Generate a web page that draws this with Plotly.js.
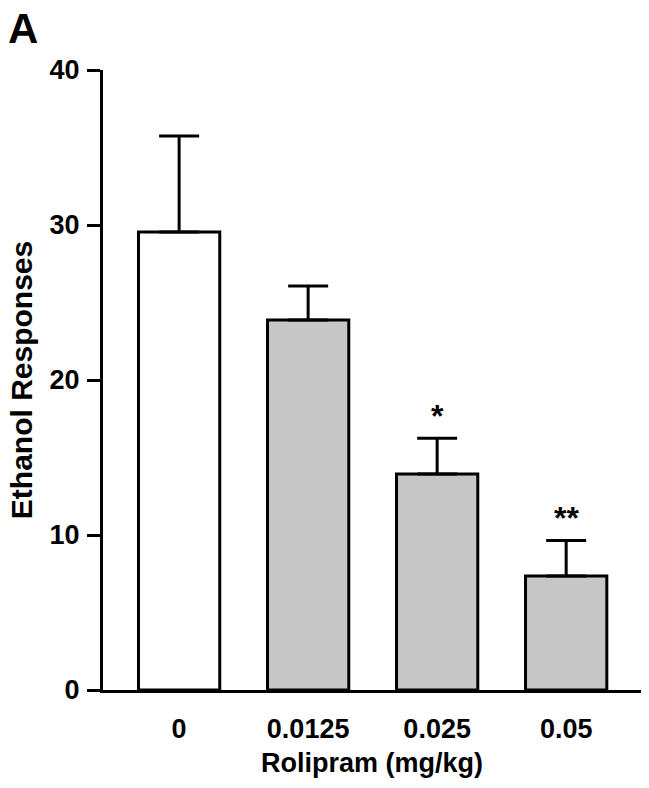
<!DOCTYPE html>
<html>
<head>
<meta charset="utf-8">
<script src="https://cdn.plot.ly/plotly-3.0.1.min.js"></script>
<style>
  body { margin: 0; background: #fff; }
  #plot { width: 649px; height: 788px; }
</style>
</head>
<body>
<div id="plot"></div>
<script>
var doses = ["0", "0.0125", "0.025", "0.05"];
var responses = [29.55, 23.87, 13.94, 7.35];
var sem = [6.2, 2.2, 2.3, 2.3];
var barColors = ["#ffffff", "#c6c6c6", "#c6c6c6", "#c6c6c6"];
var stars = ["", "", "*", "**"];

var font = { family: "Liberation Sans, Arial, sans-serif", weight: "bold", color: "#000" };

var bars = {
  x: doses,
  y: responses,
  type: "bar",
  marker: { color: barColors, line: { color: "#000", width: 3 } },
  error_y: {
    type: "data",
    array: sem,
    symmetric: false,
    arrayminus: [0, 0, 0, 0],
    color: "#000",
    thickness: 3,
    width: 20
  },
  hoverinfo: "none"
};

var annotations = [];
for (var i = 0; i < doses.length; i++) {
  if (stars[i]) {
    annotations.push({
      x: i, y: responses[i] + sem[i],
      xref: "x", yref: "y",
      text: stars[i], showarrow: false,
      yanchor: "bottom", yshift: 2,
      font: Object.assign({}, font, { size: 32 })
    });
  }
}
annotations.push({
  x: -0.18, y: 1.108, xref: "paper", yref: "paper",
  xanchor: "left", yanchor: "top",
  text: "A", showarrow: false,
  font: Object.assign({}, font, { size: 42 })
});

var layout = {
  width: 649,
  height: 788,
  margin: { l: 103, r: 8, t: 70, b: 98 },
  paper_bgcolor: "#fff",
  plot_bgcolor: "#fff",
  showlegend: false,
  bargap: 0.37,
  font: font,
  xaxis: {
    type: "category",
    range: [-0.59, 3.58],
    showline: true, linecolor: "#000", linewidth: 3,
    ticks: "", showgrid: false, zeroline: false,
    ticklabelstandoff: 13,
    tickfont: Object.assign({}, font, { size: 27 }),
    title: { text: "Rolipram (mg/kg)", standoff: 10, font: Object.assign({}, font, { size: 27 }) }
  },
  yaxis: {
    range: [0, 40],
    tickvals: [0, 10, 20, 30, 40],
    showline: true, linecolor: "#000", linewidth: 3,
    ticks: "outside", ticklen: 13, tickwidth: 3, tickcolor: "#000",
    showgrid: false, zeroline: false,
    ticklabelstandoff: 2,
    tickfont: Object.assign({}, font, { size: 27 }),
    title: { text: "Ethanol Responses", standoff: 9, font: Object.assign({}, font, { size: 30 }) }
  },
  annotations: annotations
};

Plotly.newPlot("plot", [bars], layout, { displayModeBar: false, staticPlot: true });
</script>
</body>
</html>
